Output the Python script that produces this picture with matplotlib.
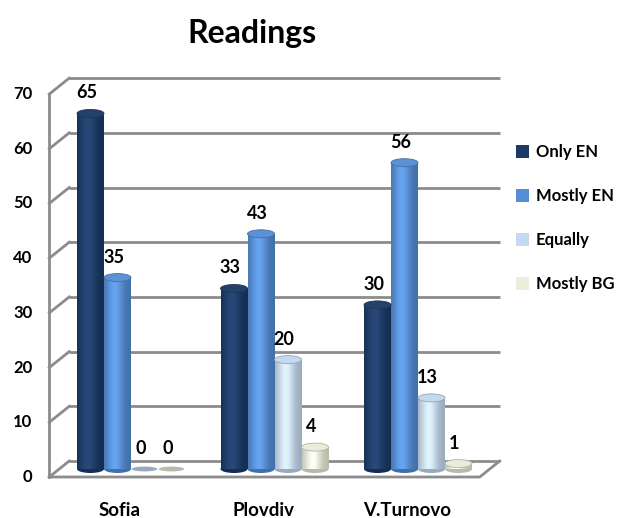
import numpy as np
import matplotlib.pyplot as plt
from matplotlib.patches import Rectangle, Ellipse, Patch
import matplotlib.colors as mcolors

# data
cities = ['Sofia', 'Plovdiv', 'V.Turnovo']
series = ['Only EN', 'Mostly EN', 'Equally', 'Mostly BG']
only_en = [65, 33, 30]
mostly_en = [35, 43, 56]
equally = [0, 20, 13]
mostly_bg = [0, 4, 1]
yticks = [0, 10, 20, 30, 40, 50, 60, 70]

values = [only_en, mostly_en, equally, mostly_bg]
colors = ['#1B3A66', '#558ED5', '#C6D9F1', '#E9EFDA']

plt.rcParams['font.family'] = ['Lato', 'DejaVu Sans']

fig = plt.figure(figsize=(6.27, 5.18), dpi=100)
W, H = 627, 518
# axes in pixel layout
ax = fig.add_axes([40 / W, (H - 490) / H, 475 / W, 430 / H])
XPX = 143.5   # pixels per category
YPX = 5.47    # pixels per unit
ax.set_xlim((40 - 131) / XPX, (515 - 131) / XPX)
ax.set_ylim((469 - 490) / YPX, (469 - 60) / YPX)
ax.axis('off')

DX = 10 / XPX
DY = 8 / YPX
grid_c = '#8C8C8C'
x0, x1 = -0.5, 2.5

# walls / gridlines
for v in yticks:
    ax.plot([x0 + DX, x1 + DX], [v + DY, v + DY], color=grid_c, lw=2, zorder=1,
            solid_capstyle='butt')
    ax.plot([x0 - DX, x0 + DX], [v - DY, v + DY], color=grid_c, lw=2, zorder=1)
    ax.text(x0 - DX - 17 / XPX, v - DY, str(v), ha='right', va='center',
            fontsize=12, fontweight='bold')
ax.plot([x0 - DX, x0 - DX], [0 - DY, 70 - DY], color=grid_c, lw=2, zorder=1)
# floor
ax.plot([x0 - DX, x1 - DX, x1 + DX], [-DY, -DY, DY], color=grid_c, lw=2, zorder=1)

# cylinders
bw = 27 / XPX
ell_h = 8 / YPX
for si, (vals, col) in enumerate(zip(values, colors)):
    base = np.array(mcolors.to_rgb(col))
    dark = base * 0.78
    light = np.clip(base * 1.08 + 0.04, 0, 1)
    t = np.linspace(0, 1, 60)
    prof = np.exp(-((t - 0.4) / 0.32) ** 2)
    grad = dark[None, :] + (light - dark)[None, :] * prof[:, None]
    for ci, v in enumerate(vals):
        xc = ci + (si - 1.5) * bw
        if v > 0:
            body = Rectangle((xc - bw / 2, 0), bw, v, facecolor='none',
                             edgecolor='none')
            ax.add_patch(body)
            im = ax.imshow(grad[None, :, :], extent=[xc - bw / 2, xc + bw / 2, 0, v],
                           aspect='auto', zorder=3, interpolation='bilinear')
            im.set_clip_path(body)
            ax.add_patch(Ellipse((xc, 0), bw, ell_h, facecolor=tuple(dark),
                                 edgecolor='none', zorder=2.9))
            ax.add_patch(Ellipse((xc, v), bw, ell_h,
                                 facecolor=tuple(np.clip(base * 0.95 + 0.04, 0, 1)),
                                 edgecolor=tuple(dark * 0.9 + 0.05), lw=0.6, zorder=4))
        else:
            ax.add_patch(Ellipse((xc, v), bw * 0.95, ell_h * 0.6,
                                 facecolor=tuple(base * 0.78), edgecolor='none', zorder=4))
        ax.annotate(str(v), (xc, v), xytext=(-4, 12), textcoords='offset pixels',
                    ha='center', va='bottom', fontsize=13, fontweight='bold', zorder=5)

# category labels
for ci, c in enumerate(cities):
    ax.annotate(c, (ci, -DY), xytext=(-11, -34), textcoords='offset pixels',
                ha='center', va='center', fontsize=13.5, fontweight='bold',
                annotation_clip=False)

# title
fig.text(252 / W, 1 - 33 / H, 'Readings', ha='center', va='center',
         fontsize=23, fontweight='bold')

# legend
handles = [Patch(facecolor=c, edgecolor='none') for c in colors]
fig.legend(handles, series, loc='upper left', bbox_to_anchor=(516 / W, 1 - 144 / H),
           frameon=False, prop={'size': 12, 'weight': 'bold'}, handlelength=0.8,
           handleheight=0.8, handletextpad=0.4, labelspacing=1.68, borderpad=0,
           borderaxespad=0)

fig.savefig('out.png', dpi=100)
